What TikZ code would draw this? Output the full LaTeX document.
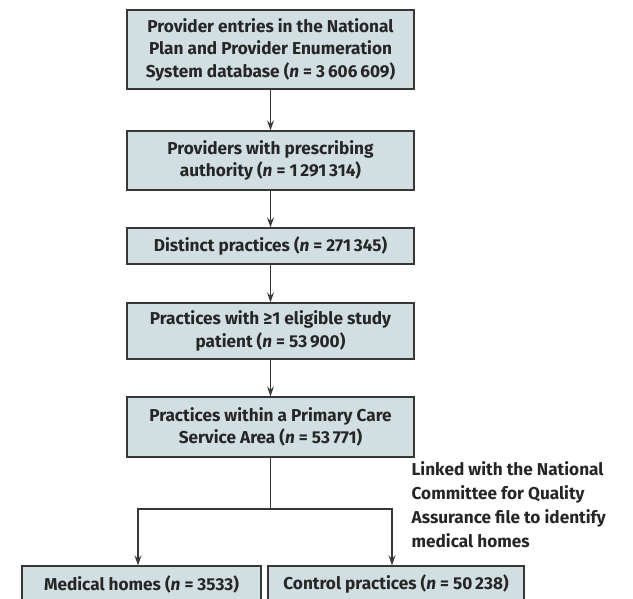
\documentclass[tikz,border=0pt]{standalone}
\usepackage{fontspec}
\setmainfont{Fira Sans}
\usetikzlibrary{arrows.meta}
\definecolor{boxfill}{RGB}{209,222,226}
\definecolor{boxline}{RGB}{55,55,55}
\begin{document}
\begin{tikzpicture}[x=1pt,y=-1pt,->,>={Stealth[length=10pt,width=7pt,inset=3.5pt]},draw=boxline,line width=1.3pt]
    \tikzstyle{stage}=[rectangle,draw=boxline,fill=boxfill,line width=1.4pt,inner sep=0pt,
        align=center,font=\fontsize{17.2}{22.5}\selectfont\bfseries,text=black!85]
    \tikzstyle{flow stage}=[stage,minimum width=287pt]
    \tikzstyle{annot}=[align=left,anchor=north west,inner sep=0pt,
        font=\fontsize{17.2}{24}\selectfont\bfseries,text=black!85]

    \useasboundingbox[fill=white] (0,0) rectangle (633,599);

    % Draw the main chain of stages
    \node[flow stage, minimum height=79pt] (S-1) at (270.5,49.5)
        {Provider entries in the National\\Plan and Provider Enumeration\\System database (\textit{n} = 3\,606\,609)};
    \node[flow stage, minimum height=59pt] (S-2) at (270.5,160.5)
        {Providers with prescribing\\authority (\textit{n} = 1\,291\,314)};
    \node[flow stage, minimum height=36pt] (S-3) at (270.5,246)
        {Distinct practices (\textit{n} = 271\,345)};
    \node[flow stage, minimum height=56pt] (S-4) at (270.5,331)
        {Practices with ≥1 eligible study\\patient (\textit{n} = 53\,900)};
    \node[flow stage, minimum height=60pt] (S-5) at (270.5,427)
        {Practices within a Primary Care\\Service Area (\textit{n} = 53\,771)};

    % Draw the two end groups
    \node[stage, minimum width=239pt, minimum height=36pt] (M-1) at (141.5,584)
        {Medical homes (\textit{n} = 3533)};
    \node[stage, minimum width=256pt, minimum height=36pt] (C-1) at (396,584)
        {Control practices (\textit{n} = 50\,238)};

    \node[annot] (L-1) at (411,461)
        {Linked with the National\\Committee for Quality\\Assurance file to identify\\medical homes};

    \foreach \source/\dest in {1/2,2/3,3/4,4/5}
        \draw (S-\source) -- (S-\dest);

    \coordinate (split) at (S-5.south |- 0,509);
    \draw[-] (S-5) -- (split);
    \draw (split) -| (M-1.north -| 138,0);
    \draw (split) -| (C-1.north -| 392,0);
\end{tikzpicture}
\end{document}
